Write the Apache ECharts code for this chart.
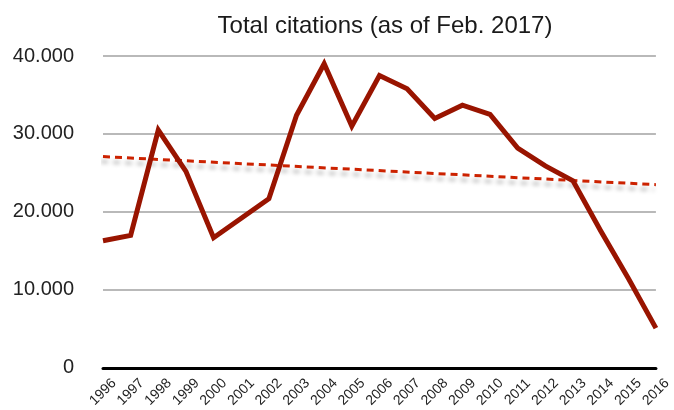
<!DOCTYPE html>
<html>
<head>
<meta charset="utf-8">
<script src="https://cdn.jsdelivr.net/npm/echarts@6/dist/echarts.min.js"></script>
<style>
  html, body { margin: 0; padding: 0; background: #fff; }
  #chart { width: 674px; height: 410px; }
</style>
</head>
<body>
<div id="chart"></div>
<script>
// Years on the x axis
const years = ['1996','1997','1998','1999','2000','2001','2002','2003','2004','2005',
               '2006','2007','2008','2009','2010','2011','2012','2013','2014','2015','2016'];
// Total citations per publication year
const citations = [16300, 17000, 30500, 25200, 16700, 19200, 21700, 32400, 39000, 31000,
                   37500, 35800, 32000, 33700, 32500, 28200, 25900, 24000, 17600, 11500, 5100];
// Linear trend: value at first and last year
const trendYears = ['1996', '2016'];
const trendValues = [27100, 23500];
// Y axis ticks
const yTicks = [0, 10000, 20000, 30000, 40000];

const fmt = v => v === 0 ? '0' : String(v).replace(/\B(?=(\d{3})+(?!\d))/g, '.');

const chart = echarts.init(document.getElementById('chart'), null, { renderer: 'canvas' });
chart.setOption({
  animation: false,
  backgroundColor: '#ffffff',
  title: {
    text: 'Total citations (as of Feb. 2017)',
    left: 380,
    textAlign: 'center',
    top: 9,
    textStyle: { fontFamily: 'Liberation Sans', fontSize: 24, fontWeight: 'normal', color: '#1a1a1a' }
  },
  grid: { left: 103, right: 16, top: 56, bottom: 42, containLabel: false },
  xAxis: {
    type: 'category',
    data: years,
    boundaryGap: false,
    axisLine: { show: true, lineStyle: { color: '#000', width: 3 } },
    axisTick: { show: false },
    splitLine: { show: false },
    axisLabel: {
      interval: 0,
      rotate: 45,
      align: 'center',
      verticalAlign: 'middle',
      margin: 24,
      fontFamily: 'Liberation Sans',
      fontSize: 14,
      color: '#222'
    }
  },
  yAxis: {
    type: 'value',
    min: yTicks[0],
    max: yTicks[yTicks.length - 1],
    interval: yTicks[1] - yTicks[0],
    axisLine: { show: false },
    axisTick: { show: false },
    splitLine: { show: true, lineStyle: { color: '#b9b9b9', width: 2 } },
    axisLabel: {
      margin: 29,
      fontFamily: 'Liberation Sans',
      fontSize: 20,
      color: '#222',
      formatter: fmt
    }
  },
  series: [
    {
      name: 'Trend',
      type: 'line',
      data: trendYears.map((y, i) => [y, trendValues[i]]),
      symbol: 'none',
      z: 2,
      lineStyle: {
        color: '#cc2200',
        width: 3,
        type: [7, 5],
        shadowColor: 'rgba(0,0,0,0.28)',
        shadowBlur: 4,
        shadowOffsetX: -2,
        shadowOffsetY: 5
      }
    },
    {
      name: 'Citations',
      type: 'line',
      data: citations,
      symbol: 'none',
      z: 3,
      lineStyle: { color: '#991400', width: 5, join: 'miter' }
    }
  ]
});
</script>
</body>
</html>
